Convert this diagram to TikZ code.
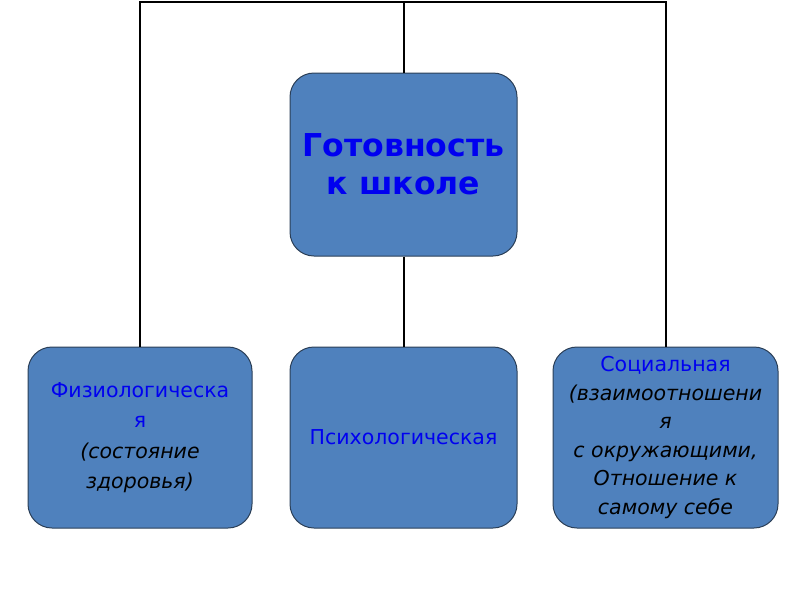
\documentclass[tikz,border=0pt]{standalone}
\usepackage{fontspec}
\setmainfont{DejaVu Sans}
\definecolor{boxfill}{HTML}{4F81BD}
\definecolor{boxline}{HTML}{2B3F57}
\definecolor{ttl}{HTML}{0000F0}
\begin{document}
\begin{tikzpicture}[x=1pt,y=-1pt,
  blk/.style={draw=boxline,line width=1pt,fill=boxfill,rounded corners=24pt,align=center,inner sep=0pt},
  wire/.style={draw=black,line width=2pt}]
\useasboundingbox (0,0) rectangle (800,600);
\node[blk,minimum width=227pt,minimum height=183pt,font=\fontsize{31.5}{38}\selectfont\bfseries,text=ttl] (top) at (403.5,164.5) {Готовность\\к школе};
\node[blk,minimum width=224pt,minimum height=181pt,font=\fontsize{20.5}{30.5}\selectfont] (left) at (140,437.5) {\textcolor{ttl}{Физиологическа}\\\textcolor{ttl}{я}\\\textit{(состояние}\\\textit{здоровья)}};
\node[blk,minimum width=227pt,minimum height=181pt,font=\fontsize{20.5}{29}\selectfont,text=ttl] (mid) at (403.5,437.5) {Психологическая};
\node[blk,minimum width=225pt,minimum height=181pt,font=\fontsize{20.5}{28.6}\selectfont] (right) at (665.5,437.5) {\textcolor{ttl}{Социальная}\\\textit{(взаимоотношени}\\\textit{я}\\\textit{с окружающими,}\\\textit{Отношение к}\\\textit{самому себе}};
\coordinate (bar) at (403.5,1.5);
\draw[wire] (left.north) |- (bar) -| (right.north);
\draw[wire] (top.north) -- (top.north |- bar);
\draw[wire] (top.south) -- (mid.north);
\end{tikzpicture}
\end{document}
